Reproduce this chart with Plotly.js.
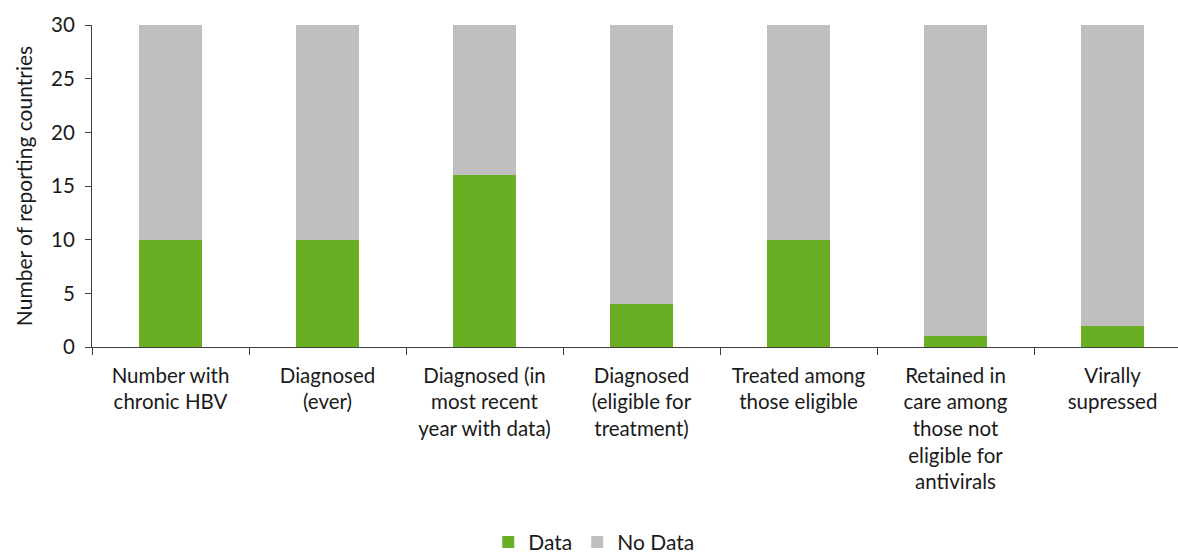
<!DOCTYPE html>
<html>
<head>
<meta charset="utf-8">
<script src="https://cdn.plot.ly/plotly-3.0.1.min.js"></script>
<style>html,body{margin:0;padding:0;background:#fff;}#chart{width:1178px;height:556px;}</style>
</head>
<body>
<div id="chart"></div>
<script>
const categories = [
  "Number with<br>chronic HBV",
  "Diagnosed<br>(ever)",
  "Diagnosed (in<br>most recent<br>year with data)",
  "Diagnosed<br>(eligible for<br>treatment)",
  "Treated among<br>those eligible",
  "Retained in<br>care among<br>those not<br>eligible for<br>antivirals",
  "Virally<br>supressed"
];
const dataValues = [10, 10, 16, 4, 10, 1, 2];
const noDataValues = [20, 20, 14, 26, 20, 29, 28];
const yTicks = [0, 5, 10, 15, 20, 25, 30];

const FONT = "Lato, 'Open Sans', sans-serif";
const traces = [
  {type: 'bar', name: 'Data', x: categories, y: dataValues, marker: {color: '#6aae23'}},
  {type: 'bar', name: 'No Data', x: categories, y: noDataValues, marker: {color: '#bfbfbf'}}
];
const layout = {
  width: 1178, height: 556,
  barmode: 'stack', bargap: 0.6,
  margin: {l: 92, r: 0, t: 25, b: 209, autoexpand: false},
  paper_bgcolor: '#fff', plot_bgcolor: '#fff',
  font: {family: FONT, size: 21, color: '#1a1a1a'},
  showlegend: true,
  legend: {orientation: 'h', x: 0.462, xanchor: 'center', y: -0.543, yanchor: 'top', font: {size: 21},
           traceorder: 'normal', itemwidth: 30},
  xaxis: {
    type: 'category', range: [-0.5, 6.417], tickson: 'boundaries', automargin: false,
    ticks: 'outside', ticklen: 7, tickcolor: '#404040', tickwidth: 1,
    showline: true, linecolor: '#404040', linewidth: 1,
    showgrid: false, zeroline: false, tickangle: 0, ticklabelstandoff: 10,
    tickfont: {family: FONT, size: 20.5, color: '#1a1a1a'}
  },
  yaxis: {
    range: [0, 30], tickvals: yTicks, ticks: 'outside', ticklen: 6, automargin: false,
    tickcolor: '#404040', showline: true, linecolor: '#404040', linewidth: 1,
    showgrid: false, zeroline: false, ticklabelstandoff: 6,
    tickfont: {family: FONT, size: 20.5, color: '#1a1a1a'},
    title: {text: 'Number of reporting countries', font: {family: FONT, size: 21, color: '#1a1a1a'}, standoff: 12}
  }
};
Plotly.newPlot('chart', traces, layout, {displayModeBar: false, staticPlot: true});
</script>
</body>
</html>
